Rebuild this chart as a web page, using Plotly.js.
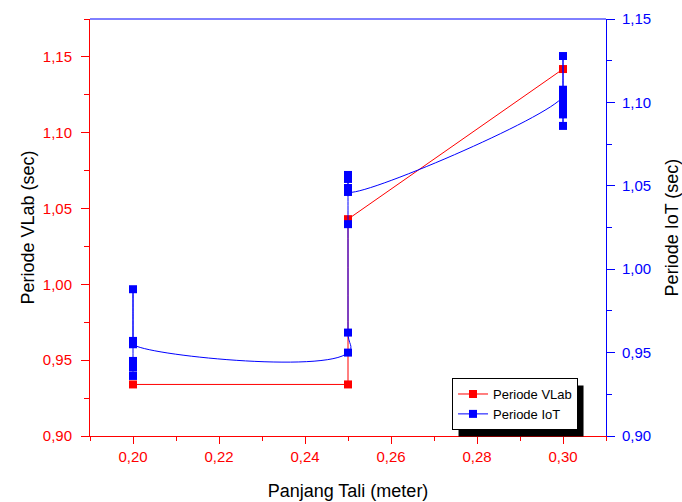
<!DOCTYPE html>
<html>
<head>
<meta charset="utf-8">
<script src="https://cdn.plot.ly/plotly-3.0.1.min.js"></script>
<style>html,body{margin:0;padding:0;background:#fff;}#chart{width:682px;height:502px;}</style>
</head>
<body>
<div id="chart"></div>
<script>
// Panjang tali (meter) and period measurements (sec)
var panjangVLab = [0.20, 0.25, 0.25, 0.30];
var periodeVLab = [0.934, 0.934, 1.043, 1.142];

var panjangIoT = [0.20, 0.20, 0.20, 0.20, 0.20, 0.20,
                  0.25, 0.25, 0.25, 0.25, 0.25, 0.25, 0.25,
                  0.30, 0.30, 0.30, 0.30, 0.30, 0.30, 0.30];
var periodeIoT = [0.936, 0.941, 0.945, 0.988, 0.957, 0.955,
                  0.950, 0.962, 1.027, 1.0565, 1.0541, 1.0487, 1.0463,
                  1.1035, 1.1076, 1.1278, 1.0859, 1.0928, 1.0955, 1.0995];

var xTickVals = [0.20, 0.22, 0.24, 0.26, 0.28, 0.30];
var yTickVals = [0.90, 0.95, 1.00, 1.05, 1.10, 1.15];

var FONT = 'Liberation Sans, Arial, sans-serif';
var RED = '#ff0000', BLUE = '#0000ff';

var traces = [
  {
    x: panjangVLab, y: periodeVLab, name: 'Periode VLab',
    type: 'scatter', mode: 'lines+markers', yaxis: 'y',
    line: {color: RED, width: 1},
    marker: {symbol: 'square', size: 8, color: RED}
  },
  {
    x: panjangIoT, y: periodeIoT, name: 'Periode IoT',
    type: 'scatter', mode: 'lines+markers', yaxis: 'y2',
    line: {color: BLUE, width: 1, shape: 'spline', smoothing: 1.3},
    marker: {symbol: 'square', size: 8, color: BLUE}
  }
];

var layout = {
  width: 682, height: 502,
  margin: {l: 90, r: 76, t: 19, b: 66},
  paper_bgcolor: '#fff', plot_bgcolor: '#fff',
  separators: ',.',
  font: {family: FONT, size: 15, color: '#000'},
  showlegend: true,
  xaxis: {
    range: [0.19, 0.31],
    tickvals: xTickVals, tickformat: '.2f',
    showgrid: false, zeroline: false,
    showline: true, linecolor: RED, linewidth: 1,
    ticks: 'outside', ticklen: 7, tickcolor: RED, tickwidth: 1,
    tickfont: {family: FONT, size: 15, color: RED},
    minor: {dtick: 0.01, ticks: 'outside', ticklen: 4, tickcolor: RED, showgrid: false},
    title: {text: 'Panjang Tali (meter)', font: {family: FONT, size: 18, color: '#000'}, standoff: 20}
  },
  yaxis: {
    range: [0.90, 1.175],
    tickvals: yTickVals, tickformat: '.2f',
    showgrid: false, zeroline: false,
    showline: true, linecolor: RED, linewidth: 1,
    ticks: 'outside', ticklen: 8, tickcolor: RED, tickwidth: 1,
    ticklabelstandoff: 6,
    tickfont: {family: FONT, size: 15, color: RED},
    minor: {dtick: 0.025, ticks: 'outside', ticklen: 5, tickcolor: RED, showgrid: false},
    title: {text: 'Periode VLab (sec)', font: {family: FONT, size: 18, color: '#000'}, standoff: 3}
  },
  yaxis2: {
    range: [0.90, 1.15],
    overlaying: 'y', side: 'right', anchor: 'x',
    tickvals: yTickVals, tickformat: '.2f',
    showgrid: false, zeroline: false,
    showline: true, linecolor: BLUE, linewidth: 1,
    ticks: 'outside', ticklen: 8, tickcolor: BLUE, tickwidth: 1,
    ticklabelstandoff: 4,
    tickfont: {family: FONT, size: 15, color: BLUE},
    minor: {dtick: 0.025, ticks: 'outside', ticklen: 5, tickcolor: BLUE, showgrid: false},
    title: {text: 'Periode IoT (sec)', font: {family: FONT, size: 18, color: '#000'}, standoff: 22}
  },
  legend: {
    x: 0.7016, y: 0.139, xanchor: 'left', yanchor: 'top',
    bgcolor: '#fff', bordercolor: '#000', borderwidth: 1,
    font: {family: FONT, size: 13, color: '#000'},
    tracegroupgap: 0, itemwidth: 30
  },
  shapes: [
    {type: 'line', xref: 'paper', yref: 'paper', x0: 0, x1: 1, y0: 1, y1: 1,
     line: {color: BLUE, width: 1}}
  ]
};

Plotly.newPlot('chart', traces, layout, {displayModeBar: false, staticPlot: true}).then(function (gd) {
  // drop shadow behind the legend box, offset down-right
  var bg = gd.querySelector('.legend .bg');
  if (!bg) return;
  var r = bg.getBoundingClientRect();
  var g = gd.getBoundingClientRect();
  var sz = gd._fullLayout._size;
  var dx = 6, dy = 7;
  var left = r.left - g.left + dx, right = r.right - g.left + dx;
  var top = r.top - g.top + dy, bottom = r.bottom - g.top + dy;
  var shadow = {
    type: 'rect', xref: 'paper', yref: 'paper', layer: 'above',
    x0: (left - sz.l) / sz.w, x1: (right - sz.l) / sz.w,
    y0: (sz.t + sz.h - bottom) / sz.h, y1: (sz.t + sz.h - top) / sz.h,
    fillcolor: '#000', line: {width: 0}
  };
  return Plotly.relayout(gd, {shapes: layout.shapes.concat([shadow])});
});
</script>
</body>
</html>
